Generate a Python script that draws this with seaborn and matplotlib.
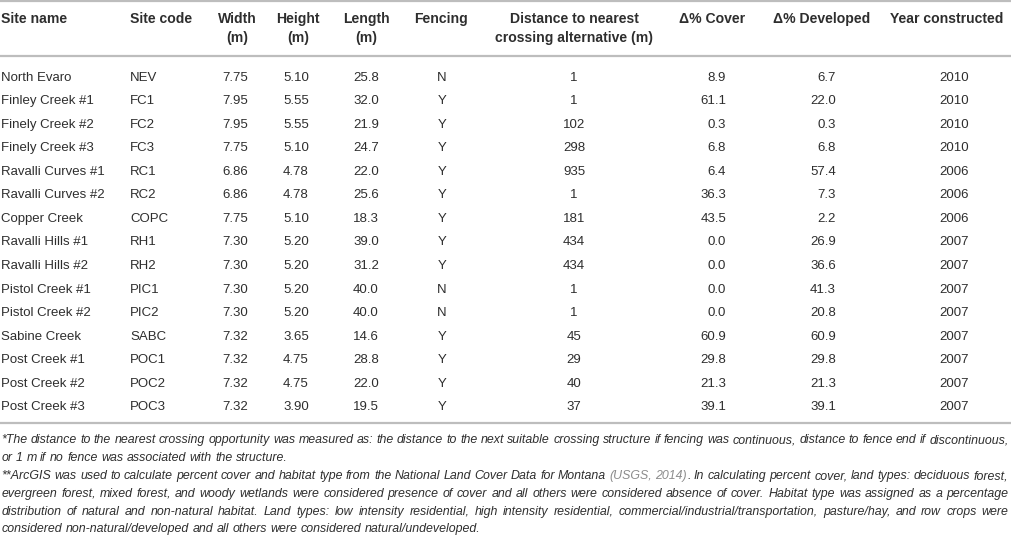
import matplotlib
matplotlib.use("Agg")
import matplotlib.pyplot as plt
import seaborn as sns
import pandas as pd

# table data
site_names = ["North Evaro", "Finley Creek #1", "Finely Creek #2", "Finely Creek #3",
              "Ravalli Curves #1", "Ravalli Curves #2", "Copper Creek", "Ravalli Hills #1",
              "Ravalli Hills #2", "Pistol Creek #1", "Pistol Creek #2", "Sabine Creek",
              "Post Creek #1", "Post Creek #2", "Post Creek #3"]
site_codes = ["NEV", "FC1", "FC2", "FC3", "RC1", "RC2", "COPC", "RH1", "RH2",
              "PIC1", "PIC2", "SABC", "POC1", "POC2", "POC3"]
widths = [7.75, 7.95, 7.95, 7.75, 6.86, 6.86, 7.75, 7.30, 7.30, 7.30, 7.30, 7.32, 7.32, 7.32, 7.32]
heights = [5.10, 5.55, 5.55, 5.10, 4.78, 4.78, 5.10, 5.20, 5.20, 5.20, 5.20, 3.65, 4.75, 4.75, 3.90]
lengths = [25.8, 32.0, 21.9, 24.7, 22.0, 25.6, 18.3, 39.0, 31.2, 40.0, 40.0, 14.6, 28.8, 22.0, 19.5]
fencing = ["N", "Y", "Y", "Y", "Y", "Y", "Y", "Y", "Y", "N", "N", "Y", "Y", "Y", "Y"]
distance = [1, 1, 102, 298, 935, 1, 181, 434, 434, 1, 1, 45, 29, 40, 37]
cover = [8.9, 61.1, 0.3, 6.8, 6.4, 36.3, 43.5, 0.0, 0.0, 0.0, 0.0, 60.9, 29.8, 21.3, 39.1]
developed = [6.7, 22.0, 0.3, 6.8, 57.4, 7.3, 2.2, 26.9, 36.6, 41.3, 20.8, 60.9, 29.8, 21.3, 39.1]
years = [2010, 2010, 2010, 2010, 2006, 2006, 2006, 2007, 2007, 2007, 2007, 2007, 2007, 2007, 2007]

headers_1 = ["Site name", "Site code", "Width", "Height", "Length", "Fencing",
             "Distance to nearest", "\u0394% Cover", "\u0394% Developed", "Year constructed"]
headers_2 = ["", "", "(m)", "(m)", "(m)", "", "crossing alternative (m)", "", "", ""]

footnote_lines = [
    "*The distance to the nearest crossing opportunity was measured as: the distance to the next "
    "suitable crossing structure if fencing was continuous, distance to fence end if discontinuous,",
    "or 1 m if no fence was associated with the structure.",
    "**ArcGIS was used to calculate percent cover and habitat type from the National Land Cover "
    "Data for Montana (USGS, 2014). In calculating percent cover, land types: deciduous forest,",
    "evergreen forest, mixed forest, and woody wetlands were considered presence of cover and all "
    "others were considered absence of cover. Habitat type was assigned as a percentage",
    "distribution of natural and non-natural habitat. Land types: low intensity residential, high "
    "intensity residential, commercial/industrial/transportation, pasture/hay, and row crops were",
    "considered non-natural/developed and all others were considered natural/undeveloped.",
]
justified = [True, False, True, True, True, False]

df = pd.DataFrame({
    "name": site_names, "code": site_codes,
    "width": [f"{v:.2f}" for v in widths],
    "height": [f"{v:.2f}" for v in heights],
    "length": [f"{v:.1f}" for v in lengths],
    "fencing": fencing,
    "distance": [str(v) for v in distance],
    "cover": [f"{v:.1f}" for v in cover],
    "developed": [f"{v:.1f}" for v in developed],
    "year": [str(v) for v in years],
})

sns.set_theme(style="white")
plt.rcParams['font.family'] = ['Liberation Sans', 'DejaVu Sans']

TXT = "#2e2e2e"
RULE = "#bdbdbd"
LINK = "#8c8c8c"

fig = plt.figure(figsize=(10.12, 5.35), dpi=100)
ax = fig.add_axes([0, 0, 1, 1])
ax.set_xlim(0, 1012)
ax.set_ylim(535, 0)
ax.axis("off")

# rules
for y in [1.2, 56, 423]:
    ax.axhline(y, color=RULE, lw=1.6)

# column layout: header x/ha and value x/ha
head_pos = [(1, "left"), (130, "left"), (237, "center"), (298, "center"), (366, "center"),
            (441, "center"), (574, "center"), (712, "center"), (822, "center"), (947, "center")]
val_pos = [(1, "left"), (130, "left"), (235, "center"), (296, "center"), (366, "center"),
           (442, "center"), (574, "center"), (726, "right"), (836, "right"), (954, "center")]

hfs = 10.1
bfs = 9.5
for (x, ha), h1, h2 in zip(head_pos, headers_1, headers_2):
    ax.text(x, 18 + 4.8, h1, ha=ha, va="baseline", fontsize=hfs, fontweight="bold", color=TXT)
    if h2:
        ax.text(x, 37 + 4.8, h2, ha=ha, va="baseline", fontsize=hfs, fontweight="bold", color=TXT)

for i, row in enumerate(df.itertuples(index=False)):
    yb = 76 + 23.55 * i + 4.6
    for (x, ha), val in zip(val_pos, row):
        ax.text(x, yb, val, ha=ha, va="baseline", fontsize=bfs, color=TXT)

# footnotes (italic, justified)
renderer = fig.canvas.get_renderer()


def text_w(s, fs):
    t = ax.text(0, 0, s, fontsize=fs, style="italic")
    w = t.get_window_extent(renderer).width
    t.remove()
    return w


def space_w(fs):
    return text_w("a a", fs) - text_w("aa", fs)


ref_fs = 10.0
natural = []
for line, just in zip(footnote_lines, justified):
    if just:
        words = line.split(" ")
        natural.append(sum(text_w(w, ref_fs) for w in words) + space_w(ref_fs) * (len(words) - 1))
ffs = ref_fs * 1004 / (sum(natural) / len(natural))

left, right = 1.5, 1008.5
sp = space_w(ffs)
for k, (line, just) in enumerate(zip(footnote_lines, justified)):
    yb = 439 + 17.8 * k + 0.36 * ffs * 100 / 72
    words = line.split(" ")
    ws = [text_w(w, ffs) for w in words]
    gap = (right - left - sum(ws)) / (len(words) - 1) if just else sp
    x = left
    for w, wd in zip(words, ws):
        if w in ("(USGS,", "2014)."):
            core = w.rstrip(".")
            ax.text(x, yb, core, fontsize=ffs, style="italic", color=LINK, va="baseline")
            if w.endswith("."):
                ax.text(x + text_w(core, ffs), yb, ".", fontsize=ffs, style="italic",
                        color=TXT, va="baseline")
        else:
            ax.text(x, yb, w, fontsize=ffs, style="italic", color=TXT, va="baseline")
        x += wd + gap

fig.savefig("out.png", dpi=100)
